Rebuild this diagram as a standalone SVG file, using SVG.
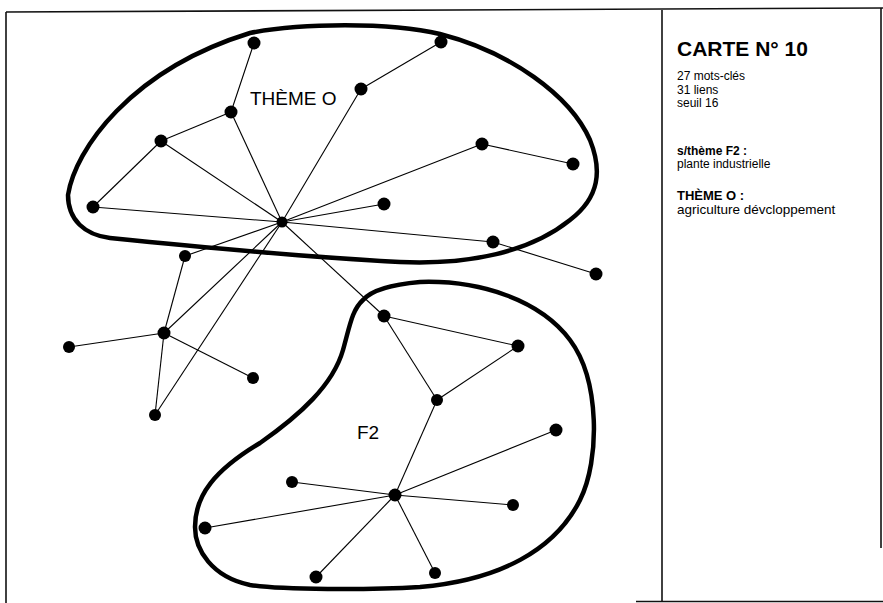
<svg xmlns="http://www.w3.org/2000/svg" width="883" height="603" viewBox="0 0 883 603">
<style>
.frame{fill:none;stroke:#111;stroke-width:1.6}
.blob{fill:none;stroke:#000;stroke-width:4.5;stroke-linejoin:round}
.edge{stroke:#000;stroke-width:1.1;fill:none}
.node{fill:#000}
.lbl{font-family:"Liberation Sans",Arial,sans-serif;font-size:19px;fill:#000}
.t{font-family:"Liberation Sans",Arial,sans-serif;fill:#000}
</style>
<rect width="883" height="603" fill="#fff"/>
<g id="frame">
<path class="frame" d="M6,12 L883,8"/>
<path class="frame" d="M6,12 L6,603"/>
<path class="frame" d="M662,10 L662,602"/>
<path class="frame" d="M881,8 L881,548"/>
<path class="frame" d="M636,601.5 L883,601.5"/>
</g>
<g id="themeO-outline">
<path class="blob" d="M68,195 C75,150 130,70 250,33 C300,23 390,22 440,34 C510,52 570,95 590,140 C602,170 600,197 570,220 C530,252 470,265 400,262 C300,257 160,243 110,238 C85,235 68,220 68,195 Z"/>
</g>
<g id="F2-outline">
<path class="blob" d="M420,282 C480,280 540,300 570,340 C600,380 600,460 580,500 C555,550 500,580 420,587 C370,590 280,590 250,585 C212,577 195,550 195,527 C195,495 215,470 260,443 C300,415 333,385 343,350 C350,325 352,310 363,300 C370,292 385,285 420,282 Z"/>
</g>
<g id="connectors">
<line class="edge" x1="254" y1="43" x2="231" y2="112"/>
<line class="edge" x1="231" y1="112" x2="161" y2="141"/>
<line class="edge" x1="231" y1="112" x2="282" y2="222"/>
<line class="edge" x1="161" y1="141" x2="93" y2="207"/>
<line class="edge" x1="161" y1="141" x2="282" y2="222"/>
<line class="edge" x1="93" y1="207" x2="282" y2="222"/>
<line class="edge" x1="441" y1="42" x2="361" y2="89"/>
<line class="edge" x1="361" y1="89" x2="282" y2="222"/>
<line class="edge" x1="482" y1="144" x2="573" y2="164"/>
<line class="edge" x1="482" y1="144" x2="282" y2="222"/>
<line class="edge" x1="384" y1="204" x2="282" y2="222"/>
<line class="edge" x1="282" y1="222" x2="493" y2="242"/>
<line class="edge" x1="493" y1="242" x2="596" y2="274"/>
<line class="edge" x1="282" y1="222" x2="185" y2="256"/>
<line class="edge" x1="282" y1="222" x2="164" y2="333"/>
<line class="edge" x1="282" y1="222" x2="155" y2="415"/>
<line class="edge" x1="282" y1="222" x2="384" y2="316"/>
<line class="edge" x1="185" y1="256" x2="164" y2="333"/>
<line class="edge" x1="164" y1="333" x2="69" y2="347"/>
<line class="edge" x1="164" y1="333" x2="253" y2="378"/>
<line class="edge" x1="164" y1="333" x2="155" y2="415"/>
<line class="edge" x1="384" y1="316" x2="518" y2="346"/>
<line class="edge" x1="384" y1="316" x2="437" y2="400"/>
<line class="edge" x1="518" y1="346" x2="437" y2="400"/>
<line class="edge" x1="437" y1="400" x2="395" y2="495"/>
<line class="edge" x1="395" y1="495" x2="556" y2="430"/>
<line class="edge" x1="395" y1="495" x2="513" y2="505"/>
<line class="edge" x1="395" y1="495" x2="435" y2="573"/>
<line class="edge" x1="395" y1="495" x2="316" y2="577"/>
<line class="edge" x1="395" y1="495" x2="205" y2="528"/>
<line class="edge" x1="395" y1="495" x2="292" y2="482"/>
</g>
<g id="nodes">
<g id="n1"><circle class="node" cx="254" cy="43" r="6.5"/></g>
<g id="n2"><circle class="node" cx="231" cy="112" r="6.5"/></g>
<g id="n3"><circle class="node" cx="161" cy="141" r="6.5"/></g>
<g id="n4"><circle class="node" cx="93" cy="207" r="6.5"/></g>
<g id="n5"><circle class="node" cx="282" cy="222" r="5.5"/></g>
<g id="n6"><circle class="node" cx="185" cy="256" r="6"/></g>
<g id="n7"><circle class="node" cx="441" cy="42" r="6.5"/></g>
<g id="n8"><circle class="node" cx="361" cy="89" r="6.5"/></g>
<g id="n9"><circle class="node" cx="482" cy="144" r="6.5"/></g>
<g id="n10"><circle class="node" cx="573" cy="164" r="6.5"/></g>
<g id="n11"><circle class="node" cx="384" cy="204" r="6.5"/></g>
<g id="n12"><circle class="node" cx="493" cy="242" r="6.5"/></g>
<g id="n13"><circle class="node" cx="596" cy="274" r="6.5"/></g>
<g id="n14"><circle class="node" cx="164" cy="333" r="6.5"/></g>
<g id="n15"><circle class="node" cx="69" cy="347" r="6"/></g>
<g id="n16"><circle class="node" cx="253" cy="378" r="6"/></g>
<g id="n17"><circle class="node" cx="155" cy="415" r="6"/></g>
<g id="n18"><circle class="node" cx="292" cy="482" r="6"/></g>
<g id="n19"><circle class="node" cx="205" cy="528" r="6.5"/></g>
<g id="n20"><circle class="node" cx="316" cy="577" r="6.5"/></g>
<g id="n21"><circle class="node" cx="384" cy="316" r="6.5"/></g>
<g id="n22"><circle class="node" cx="518" cy="346" r="6.5"/></g>
<g id="n23"><circle class="node" cx="437" cy="400" r="6"/></g>
<g id="n24"><circle class="node" cx="556" cy="430" r="6.5"/></g>
<g id="n25"><circle class="node" cx="395" cy="495" r="6.5"/></g>
<g id="n26"><circle class="node" cx="513" cy="505" r="6"/></g>
<g id="n27"><circle class="node" cx="435" cy="573" r="6"/></g>
</g>
<g id="labels">
<text class="lbl" x="250" y="105">THÈME O</text>
<text class="lbl" x="357" y="439">F2</text>
</g>
<g id="legend">
<text class="t" x="677" y="56" font-size="21" font-weight="bold">CARTE N° 10</text>
<text class="t" x="677" y="80" font-size="12">27 mots-clés</text>
<text class="t" x="677" y="93.5" font-size="12">31 liens</text>
<text class="t" x="677" y="107" font-size="12">seuil 16</text>
<text class="t" x="677" y="155" font-size="12" font-weight="bold">s/thème F2 :</text>
<text class="t" x="677" y="168" font-size="12">plante industrielle</text>
<text class="t" x="677" y="200" font-size="13" font-weight="bold">THÈME O :</text>
<text class="t" x="677" y="214" font-size="13.5">agriculture dévcloppement</text>
</g>
</svg>
